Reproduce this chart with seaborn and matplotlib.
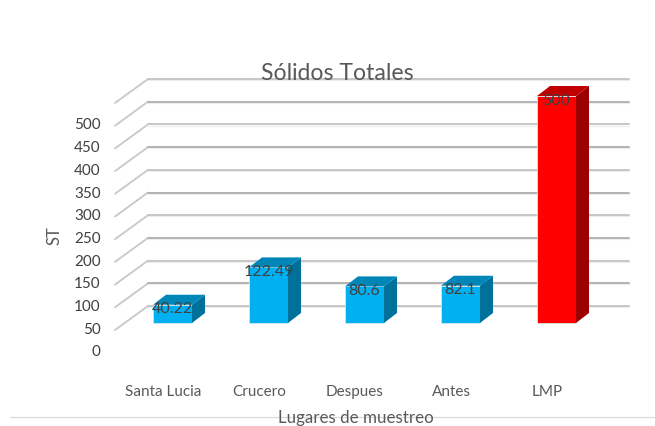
import numpy as np
import pandas as pd
import matplotlib
matplotlib.use("Agg")
import matplotlib.pyplot as plt
from matplotlib.patches import Polygon
from matplotlib.lines import Line2D
import seaborn as sns

# values
lugares = ["Santa Lucia", "Crucero", "Despues", "Antes", "LMP"]
solidos = [40.22, 122.49, 80.6, 82.1, 500]
etiquetas = ["40.22", "122.49", "80.6", "82.1", "500"]
y_ticks = [0, 50, 100, 150, 200, 250, 300, 350, 400, 450, 500]
grid_ticks = [50, 100, 150, 200, 250, 300, 350, 400, 450, 500, 550]

# fake 3D: pixel scale of the original chart
PX_X = 96.0        # px per category
PX_Y = 0.454       # px per unit
BASE_X = 172.5     # px centre of first bar
BASE_Y = 324.0     # px of bar base
W, H = 655, 427

sns.set_style("white")
plt.rcParams["font.family"] = ["Lato", "DejaVu Sans"]

fig = plt.figure(figsize=(W / 100, H / 100), dpi=100)
left, right, top, bottom = 113, 640, 60, 360
ax = fig.add_axes([left / W, 1 - bottom / H, (right - left) / W, (bottom - top) / H])

df = pd.DataFrame({"lugar": lugares, "st": solidos})
sns.barplot(data=df, x="lugar", y="st", hue="lugar", dodge=False, legend=False,
            palette=["#00B0F0"] * 4 + ["#FF0000"], width=39 / PX_X, saturation=1,
            edgecolor="#d5e6ee", linewidth=0.6, zorder=3, ax=ax)

ax.set_xlim((left - BASE_X) / PX_X, (right - BASE_X) / PX_X)
ax.set_ylim((BASE_Y - bottom) / PX_Y, (BASE_Y - top) / PX_Y)

dx = 13 / PX_X
dy = 10 / PX_Y
half = 19.5 / PX_X
for i, v in enumerate(solidos):
    side = "#9C0000" if v == 500 else "#00719B"
    roof = "#C00000" if v == 500 else "#0087B8"
    ax.add_patch(Polygon([(i + half, 0), (i + half + dx, dy), (i + half + dx, v + dy), (i + half, v)],
                         facecolor=side, edgecolor="none", zorder=3))
    ax.add_patch(Polygon([(i - half, v), (i - half + dx, v + dy), (i + half + dx, v + dy), (i + half, v)],
                         facecolor=roof, edgecolor="none", zorder=3))
    ax.text(i, v - 8, etiquetas[i], ha="center", va="center", fontsize=11.5, color="#404040", zorder=5)

# back wall lines with their diagonals
x_front = (115 - BASE_X) / PX_X
x_back = (148 - BASE_X) / PX_X
x_end = (629 - BASE_X) / PX_X
for n, t in enumerate(grid_ticks):
    y_front = (BASE_Y - (331 - PX_Y * (t - 50))) / PX_Y
    y_back = y_front + 24 / PX_Y
    col = "#c6c6c6" if n % 2 == 0 else "#b2b2b2"
    ax.plot([x_front, x_back], [y_front, y_back], color="#c8c8c8", lw=1.3, zorder=1)
    ax.plot([x_back, x_end], [y_back, y_back], color=col, lw=1.4, zorder=1)
    ax.plot([x_back, x_end], [y_back - 2.5, y_back - 2.5], color="#ececec", lw=0.8, zorder=0.9)

ax.set_yticks([(t - (351 - BASE_Y) / PX_Y) for t in y_ticks])
ax.set_yticklabels([str(t) for t in y_ticks])
ax.set_xticks(np.arange(len(lugares)) - 9.5 / PX_X)
ax.set_xticklabels(lugares)
ax.tick_params(axis="y", length=0, pad=9, labelsize=11, labelcolor="#404040")
ax.tick_params(axis="x", length=0, pad=18, labelsize=11, labelcolor="#595959")
ax.set_xlabel("")
ax.set_ylabel("")
sns.despine(ax=ax, left=True, bottom=True)

fig.add_artist(Line2D([10 / W, 1], [1 - 417.5 / H] * 2, color="#d9d9d9", lw=0.9, zorder=0))
fig.text(337.5 / W, 1 - 74 / H, "Sólidos Totales", ha="center", va="center", fontsize=16.6, color="#595959")
fig.text(356 / W, 1 - 418 / H, "Lugares de muestreo", ha="center", va="center", fontsize=12.2, color="#595959")
fig.text(55 / W, 1 - 236 / H, "ST", ha="center", va="center", rotation=90, fontsize=12, color="#595959")

fig.savefig("out.png", dpi=100)
